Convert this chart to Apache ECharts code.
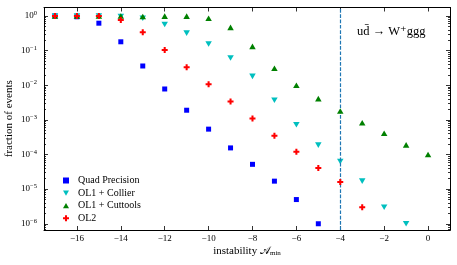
<!DOCTYPE html>
<html><head><meta charset="utf-8">
<script src="https://cdn.jsdelivr.net/npm/echarts@6/dist/echarts.min.js"></script>
<style>html,body{margin:0;padding:0;background:#fff}#c{width:457px;height:265px}</style>
</head><body><div id="c"></div>
<script>
const instability = [-17,-16,-15,-14,-13,-12,-11,-10,-9,-8,-7,-6,-5,-4,-3,-2,-1,0];
const quadPrecision = [1,0.95,0.62,0.18,0.036,0.0078,0.0019,5.4e-4,1.55e-4,5.2e-5,1.7e-5,5.0e-6,1.0e-6];
const ol1Collier = [1,1,1,0.97,0.86,0.57,0.32,0.155,0.061,0.018,0.0037,7.2e-4,1.87e-4,6.3e-5,1.7e-5,3.0e-6,1.0e-6];
const ol1Cuttools = [1,1,1,1,0.97,0.99,0.99,0.86,0.47,0.133,0.031,0.010,0.0041,0.0018,8.3e-4,4.1e-4,1.9e-4,1.0e-4];
const ol2 = [1,1,1,0.77,0.34,0.104,0.033,0.0107,0.0034,0.0011,3.5e-4,1.2e-4,4.1e-5,1.6e-5,3.0e-6];
const seriesNames = ['Quad Precision','OL1 + Collier','OL1 + Cuttools','OL2'];
const xTicks = [-16,-14,-12,-10,-8,-6,-4,-2,0];
const yTicks = [1e-6,1e-5,1e-4,1e-3,1e-2,1e-1,1];
const thresholdX = -4;
const processLabel = 'ud\u0304 \u2192 W\u207Aggg';
const xAxisTitle = 'instability \uD835\uDC9C';
const xAxisSub = 'min';
const yAxisTitle = 'fraction of events';

const FF = '"Liberation Serif", "DejaVu Serif", serif';
const X_MIN = -17.5, X_MAX = 1, Y_MIN = 6.6e-7, Y_MAX = 1.76;

const minorTicks = [];
[1e-7].concat(yTicks).forEach(d => { for (let k = 2; k <= 9; k++) { const v = d * k; if (v > Y_MIN && v < Y_MAX) minorTicks.push(v); } });

const pair = vals => vals.map((v, i) => [instability[i], v]);
const downTri = 'path://M0,0 L10,0 L5,8.66 Z';
const upTri = 'path://M5,0 L10,8.66 L0,8.66 Z';
const plusF = 'path://M3.3,0 H6.7 V3.3 H10 V6.7 H6.7 V10 H3.3 V6.7 H0 V3.3 H3.3 Z';

const fmtExp = v => { const e = Math.round(Math.log10(v)); return '{b|10}{s|' + (e < 0 ? '\u2212' + (-e) : e) + '}'; };

function yAx(pos, ticks, len, labels) {
  return {
    type: 'log', logBase: 10, min: Y_MIN, max: Y_MAX, position: pos, offset: 0,
    axisLine: { show: true, onZero: false, lineStyle: { color: '#000', width: 1 } },
    axisTick: { show: true, inside: true, length: len, customValues: ticks, lineStyle: { color: '#000', width: 0.8 } },
    axisLabel: labels ? { show: true, customValues: ticks, formatter: fmtExp, margin: 7, color: '#000',
      rich: { b: { fontSize: 9, fontFamily: FF, color: '#000' }, s: { fontSize: 6.5, fontFamily: FF, color: '#000', padding: [0, 0, 5, 0] } } } : { show: false },
    splitLine: { show: false }, minorTick: { show: false },
    name: labels ? yAxisTitle : '', nameLocation: 'middle', nameGap: 29, nameMoveOverlap: false,
    nameTextStyle: { fontSize: 11, fontFamily: FF, color: '#000' }
  };
}

const chart = echarts.init(document.getElementById('c'), null, { renderer: 'canvas' });
chart.setOption({
  animation: false,
  backgroundColor: '#fff',
  grid: { left: 44, right: 7, top: 7.5, bottom: 35, containLabel: false, outerBoundsMode: 'none' },
  xAxis: [
    { type: 'value', min: X_MIN, max: X_MAX, position: 'bottom',
      axisLine: { show: true, onZero: false, lineStyle: { color: '#000', width: 1 } },
      axisTick: { show: true, inside: true, length: 4, customValues: xTicks, lineStyle: { color: '#000', width: 0.8 } },
      axisLabel: { customValues: xTicks, formatter: v => v < 0 ? '\u2212' + (-v) : String(v), fontSize: 9, fontFamily: FF, color: '#000', margin: 4 },
      splitLine: { show: false },
      name: '{t|' + xAxisTitle + '}{m|' + xAxisSub + '}', nameLocation: 'middle', nameGap: 16, nameMoveOverlap: false,
      nameTextStyle: { rich: { t: { fontSize: 11, fontFamily: FF, color: '#000' }, m: { fontSize: 7, fontFamily: FF, color: '#000', padding: [3, 0, 0, 0] } } } },
    { type: 'value', min: X_MIN, max: X_MAX, position: 'top',
      axisLine: { show: true, onZero: false, lineStyle: { color: '#000', width: 1 } },
      axisTick: { show: true, inside: true, length: 4, customValues: xTicks, lineStyle: { color: '#000', width: 0.8 } },
      axisLabel: { show: false }, splitLine: { show: false } }
  ],
  yAxis: [
    yAx('left', yTicks, 4, true),
    yAx('left', minorTicks, 2, false),
    yAx('right', yTicks, 4, false),
    yAx('right', minorTicks, 2, false)
  ],
  legend: {
    orient: 'vertical', left: 58, top: 169.5, itemWidth: 6, itemHeight: 6, itemGap: 0.6,
    textStyle: { fontSize: 10, lineHeight: 12, fontFamily: FF, color: '#000', padding: [0, 0, 0, 4] },
    data: [
      { name: seriesNames[0], icon: 'rect' },
      { name: seriesNames[1], icon: downTri },
      { name: seriesNames[2], icon: upTri },
      { name: seriesNames[3], icon: plusF }
    ]
  },
  series: [
    { name: seriesNames[0], type: 'scatter', symbol: 'rect', symbolSize: 5, itemStyle: { color: '#0000ff', opacity: 1 }, data: pair(quadPrecision), z: 3,
      markLine: { silent: true, symbol: 'none', label: { show: false }, emphasis: { disabled: true },
        lineStyle: { color: '#1f77b4', opacity: 1, width: 1.2, type: [3.7, 1.6] }, data: [{ xAxis: thresholdX, lineStyle: { color: '#1f77b4' } }] } },
    { name: seriesNames[1], type: 'scatter', symbol: downTri, symbolSize: [6.5, 5.6], itemStyle: { color: '#00bfbf', opacity: 1 }, data: pair(ol1Collier), z: 4 },
    { name: seriesNames[2], type: 'scatter', symbol: upTri, symbolSize: [6.5, 5.6], itemStyle: { color: '#008000', opacity: 1 }, data: pair(ol1Cuttools), z: 5 },
    { name: seriesNames[3], type: 'scatter', symbol: plusF, symbolSize: 6, itemStyle: { color: '#ff0000', opacity: 1 }, data: pair(ol2), z: 6 }
  ],
  graphic: [
    { type: 'text', left: 357, top: 25, style: { text: processLabel, fontSize: 12.5, fontFamily: FF, fill: '#000' } }
  ]
});
</script>
</body></html>
